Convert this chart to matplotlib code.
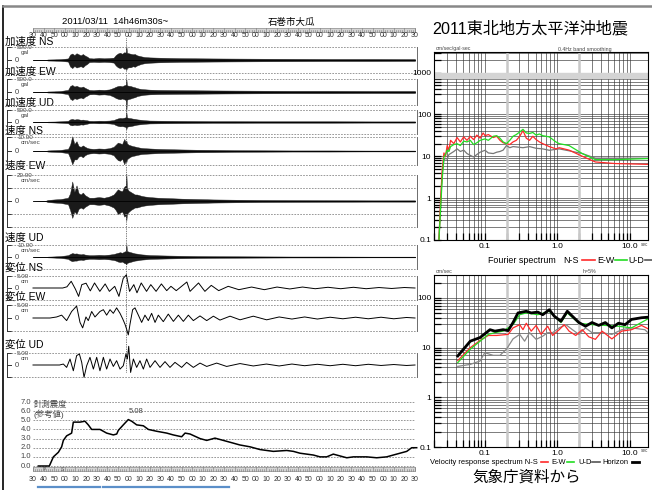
import numpy as np
import matplotlib
matplotlib.use('Agg')
import matplotlib.pyplot as plt
from matplotlib.patches import Rectangle
from matplotlib.ticker import LogLocator, NullFormatter

plt.rcParams['font.family'] = ['Liberation Sans', 'Noto Sans CJK JP', 'DejaVu Sans']

# ---------------- data ----------------
time_labels = ['30', '40', '50', '00', '10', '20'] * 6 + ['30']   # every 10 s from 14:46:30
peak_time = 88.0

# envelope time base (s after 14:46:30)
env_t = [0, 12, 14, 20, 26, 33, 35, 37, 39, 41, 43, 45, 47, 49, 51, 53, 57, 62, 67, 72,
         76, 78, 80, 82, 84, 86, 87.5, 88, 88.5, 90, 92, 94, 96, 98, 100, 102, 105, 110, 118, 128,
         140, 155, 170, 190, 215, 245, 280, 320, 360]
# acceleration (gal)
acc_ns_up = [0, 3, 20, 25, 35, 60, 210, 250, 190, 260, 220, 180, 230, 170, 130, 70, 60, 80, 65, 75,
             90, 190, 250, 280, 240, 300, 280, 540, 280, 260, 240, 220, 230, 180, 160, 140, 115, 100, 90, 80,
             70, 65, 60, 55, 50, 45, 40, 40, 35]
acc_ns_lo = [0, -3, -20, -25, -35, -60, -250, -310, -230, -290, -260, -240, -280, -200, -150, -80, -70, -80, -70, -80,
             -100, -210, -280, -310, -270, -340, -320, -380, -310, -280, -280, -240, -260, -210, -180, -150, -125, -105, -90, -80,
             -70, -65, -60, -55, -50, -45, -40, -40, -35]
acc_ew_up = [0, 3, 20, 25, 40, 80, 230, 270, 210, 240, 200, 180, 210, 160, 120, 80, 70, 90, 80, 100,
             160, 200, 230, 240, 220, 260, 280, 500, 260, 240, 230, 200, 180, 150, 130, 115, 105, 90, 80, 75,
             70, 65, 60, 55, 50, 45, 45, 40, 40]
acc_ew_lo = [0, -3, -20, -25, -40, -80, -260, -310, -240, -270, -240, -210, -250, -180, -140, -90, -80, -100, -90, -110,
             -180, -230, -260, -280, -250, -280, -310, -750, -300, -270, -250, -220, -200, -160, -140, -125, -105, -90, -80, -75,
             -70, -65, -60, -55, -50, -45, -45, -40, -40]
acc_ud_up = [0, 2, 15, 20, 30, 50, 110, 130, 100, 120, 110, 90, 100, 80, 70, 50, 45, 55, 50, 60,
             80, 120, 150, 170, 160, 180, 200, 420, 190, 170, 160, 140, 130, 110, 100, 90, 75, 60, 55, 50,
             45, 40, 35, 35, 30, 30, 30, 25, 25]
acc_ud_lo = [0, -2, -15, -20, -30, -50, -120, -140, -110, -130, -120, -100, -110, -90, -70, -50, -45, -55, -50, -60,
             -80, -130, -160, -180, -170, -190, -210, -300, -200, -180, -170, -150, -130, -110, -100, -90, -75, -60, -55, -50,
             -45, -40, -35, -35, -30, -30, -30, -25, -25]
# velocity (cm/s)
vel_ns_up = [0, 0.1, 0.4, 0.6, 0.8, 1.5, 4.5, 10.5, 5.0, 7.0, 3.5, 3.0, 4.0, 3.0, 2.2, 1.8, 1.5, 1.8, 1.6, 2.0,
             3.0, 4.5, 6.0, 5.5, 5.0, 8.6, 6.0, 7.5, 5.5, 4.5, 4.0, 3.5, 3.2, 2.8, 2.5, 2.2, 2.0, 1.8, 1.5, 1.3,
             1.1, 0.9, 0.8, 0.6, 0.5, 0.4, 0.4, 0.3, 0.3]
vel_ns_lo = [0, -0.1, -0.4, -0.6, -0.8, -1.5, -5.0, -9.5, -6.0, -6.0, -4.0, -3.5, -4.5, -3.0, -2.2, -1.8, -1.5, -1.8, -1.6, -2.0,
             -3.0, -5.0, -6.5, -7.0, -5.5, -9.5, -6.5, -8.0, -6.0, -5.0, -4.0, -3.5, -3.2, -2.8, -2.5, -2.2, -2.0, -1.8, -1.5, -1.3,
             -1.1, -0.9, -0.8, -0.6, -0.5, -0.4, -0.4, -0.3, -0.3]
vel_ew_up = [0, 0.2, 0.8, 1.2, 1.5, 2.5, 6.0, 15.0, 7.0, 12.0, 6.0, 5.0, 6.5, 4.5, 3.5, 2.5, 2.5, 3.0, 2.5, 3.5,
             5.0, 7.0, 9.0, 8.0, 7.5, 11.0, 12.0, 21.0, 10.0, 8.0, 7.0, 6.0, 5.0, 5.0, 4.5, 4.0, 3.5, 3.0, 2.5, 2.2,
             1.8, 1.5, 1.2, 1.0, 0.8, 0.7, 0.6, 0.5, 0.5]
vel_ew_lo = [0, -0.2, -0.8, -1.2, -1.5, -2.5, -7.0, -13.0, -8.0, -10.0, -6.0, -5.0, -6.0, -4.5, -3.5, -2.5, -2.5, -3.0, -2.5, -3.5,
             -5.0, -7.0, -10.0, -9.0, -8.0, -12.0, -11.0, -15.0, -10.0, -8.5, -7.0, -6.0, -5.0, -5.0, -4.5, -4.0, -3.5, -3.0, -2.5, -2.2,
             -1.8, -1.5, -1.2, -1.0, -0.8, -0.7, -0.6, -0.5, -0.5]
vel_ud_up = [0, 0.1, 0.3, 0.5, 0.8, 1.5, 2.5, 3.3, 2.8, 3.0, 2.5, 2.2, 2.5, 2.0, 1.8, 1.5, 1.5, 1.8, 1.6, 2.0,
             2.5, 3.0, 3.5, 4.0, 3.5, 4.5, 5.0, 11.0, 5.0, 4.5, 4.0, 3.5, 3.0, 2.8, 2.5, 2.2, 2.0, 1.6, 1.4, 1.2,
             1.0, 0.8, 0.7, 0.6, 0.5, 0.4, 0.4, 0.3, 0.3]
vel_ud_lo = [0, -0.1, -0.3, -0.5, -0.8, -1.5, -2.8, -3.5, -3.0, -3.0, -2.5, -2.2, -2.5, -2.0, -1.8, -1.5, -1.5, -1.8, -1.6, -2.0,
             -2.5, -3.0, -3.8, -4.2, -3.8, -5.0, -5.5, -6.0, -5.0, -4.5, -4.0, -3.5, -3.0, -2.8, -2.5, -2.2, -2.0, -1.6, -1.4, -1.2,
             -1.0, -0.8, -0.7, -0.6, -0.5, -0.4, -0.4, -0.3, -0.3]
# displacement (cm)
dis_ns_t = [0, 28, 32, 36, 40, 43, 46, 50, 54, 58, 63, 68, 72, 77, 81, 85, 88, 91, 95, 98, 102, 107, 111, 116,
            121, 126, 130, 135, 145, 148, 156, 162, 168, 175, 184, 194, 206, 218, 230, 242, 254, 266, 278, 290,
            302, 314, 326, 338, 350, 360]
dis_ns_v = [0, 0, 0.5, 2.8, -0.5, -3.5, 1.4, 2.0, -1.2, 2.1, -1.4, 1.7, -1.4, 0.7, -3.5, 4.0, 5.5, -1.4, 1.4, -2.0, 2.1, -1.4, 1.4, -1.4,
            1.7, -1.1, 0.7, -1.1, 2.5, -1.4, 2.1, -1.4, 1.1, -1.1, 0.7, -0.7, 0.4, -0.7, 0.4, -0.4, 0.4, -0.3, 0.3, -0.3,
            0.3, -0.3, 0.2, -0.2, 0.2, 0]
dis_ew_t = [0, 16, 22.3, 27, 31.7, 36.4, 41.1, 44.3, 46.8, 49.9, 52.1, 55.3, 58.4, 63.1, 66.3, 69.4, 72.6, 75.7, 78.8, 82,
            84.5, 86.7, 88.3, 89.8, 91.4, 93.9, 96.1, 99.3, 102.4, 105.5, 108.7, 111.8, 115, 118.1, 122.8, 127.5, 132.3, 137,
            141.7, 146.4, 151.1, 157.4, 163.7, 170, 176.2, 185.7, 195.1, 207.6, 220.2, 232, 244, 256, 268, 280, 292, 304,
            316, 328, 340, 352, 360]
dis_ew_v = [0, 0, 0.4, 1.1, -1.0, 2.5, 4.6, -1.7, -3.8, 0.4, -1.0, 2.5, 0.4, 2.5, 3.2, 1.1, 3.2, 1.8, 3.9, 1.8,
            -0.3, -2.4, -4.4, -6.5, -2.4, 3.2, 3.9, 1.1, -1.7, 1.1, -1.0, 1.8, -1.7, 1.1, -1.4, 1.5, -1.3, 1.1,
            -1.3, 1.1, -1.0, 0.8, -1.0, 0.7, -0.8, 0.7, -0.7, 0.7, -0.7, 0.4, -0.4, 0.4, -0.4, 0.3, -0.3, 0.3,
            -0.3, 0.3, -0.3, 0.2, 0]
dis_ud_t = [0, 25, 28.6, 31.7, 34.9, 38.0, 41.1, 43.7, 45.9, 48.1, 50.6, 53.7, 56.9, 60.0, 63.1, 66.3, 69.4, 72.6, 75.7,
            78.8, 82.0, 85.1, 87.6, 88.9, 90.2, 92.0, 94.6, 97.7, 100.8, 104, 107.1, 110.3, 115, 119.7, 124.4, 129.1, 133.8,
            140.1, 144.8, 151.1, 157.4, 163.7, 173.1, 182.5, 195.1, 207.6, 220, 232, 244, 256, 268, 280, 292, 304, 316,
            328, 340, 352, 360]
dis_ud_v = [0, 0, 0.4, -1.0, 2.5, -2.4, 3.9, 4.6, 1.1, -5.1, -0.3, 3.2, -1.7, 3.2, -2.4, 3.2, -1.7, 2.5, -0.6,
            1.8, -1.7, -0.3, 4.6, 2.5, 7.8, -3.1, 2.5, -1.0, 1.8, -1.7, 2.5, -1.0, 1.8, -1.0, 1.4, -1.0, 1.1,
            -1.0, 1.1, -1.0, 0.8, -0.6, 0.8, -0.6, 0.6, -0.4, 0.4, -0.4, 0.4, -0.3, 0.3, -0.3, 0.3, -0.3, 0.3,
            -0.2, 0.2, -0.2, 0]
# seismic intensity (reference)
int_t = [5, 15.4, 19.2, 23.9, 27, 28.6, 31.7, 34.9, 36.4, 38, 44.3, 49, 52.1, 55.3, 63.1, 66.3, 69.4, 75.7, 78.9, 80.4,
         85.1, 89.8, 93, 97.7, 104, 108.7, 116.6, 126, 132.2, 140.1, 143.3, 148, 157.4, 163.7, 171.5, 179.4, 188.8, 195,
         204.5, 213.9, 226.5, 239.1, 245.4, 251.6, 264.2, 270.5, 276.8, 283, 289.3, 295.7, 301.9, 314.5, 323.9, 333.3,
         342.7, 352.2, 356.9, 361.6]
int_v = [0, 0, 1.0, 1.5, 2.1, 2.8, 3.3, 3.5, 3.6, 4.8, 4.8, 4.9, 4.5, 4.0, 4.0, 3.8, 3.6, 3.4, 3.5, 3.9,
         4.5, 5.08, 4.9, 4.5, 4.4, 4.0, 3.8, 3.6, 3.4, 3.2, 3.6, 3.5, 3.0, 2.8, 3.05, 2.8, 2.5, 2.3,
         2.1, 1.8, 1.6, 1.7, 1.6, 1.4, 1.2, 1.0, 1.0, 1.3, 1.1, 0.9, 1.0, 1.0, 0.9, 1.0,
         1.3, 1.6, 2.0, 2.0]
int_labels = ['0.0', '1.0', '2.0', '3.0', '4.0', '5.0', '6.0', '7.0']

# Fourier spectrum (period s, cm/s)
fs_ns_p = [0.0234, 0.0247, 0.026, 0.0274, 0.0288, 0.0304, 0.0321, 0.0338, 0.0375, 0.0416, 0.0461, 0.0513, 0.0569,
           0.0632, 0.0702, 0.0778, 0.0864, 0.095, 0.101, 0.112, 0.131, 0.146, 0.162, 0.179, 0.199, 0.221, 0.245,
           0.272, 0.303, 0.336, 0.373, 0.414, 0.459, 0.51, 0.566, 0.628, 0.774, 0.955, 1.06, 1.45, 2.2, 3.34, 6.25, 17.7]
fs_ns_v = [0.1, 1.0, 5, 12, 10, 18, 14, 24, 20, 28, 22, 29, 24, 30, 25, 32, 27, 36, 31, 33, 28, 30, 24, 21, 20, 19, 22,
           24, 30, 41, 27, 24, 30, 25, 22, 20, 17, 15, 16, 14, 10, 7.3, 6.7, 6.4]
fs_ew_p = [0.0234, 0.0247, 0.026, 0.0274, 0.0288, 0.0304, 0.0321, 0.0338, 0.0375, 0.0416, 0.0461, 0.0513, 0.0569,
           0.0632, 0.0702, 0.0778, 0.0864, 0.101, 0.112, 0.131, 0.146, 0.162, 0.179, 0.199, 0.221, 0.245, 0.272,
           0.303, 0.336, 0.373, 0.414, 0.459, 0.51, 0.566, 0.628, 0.774, 0.955, 1.06, 1.45, 2.2, 3.34, 6.25, 17.7]
fs_ew_v = [0.1, 0.6, 3, 9.6, 11, 14, 13, 17, 19, 20, 18, 23, 22, 24, 19, 21, 24, 26, 24, 30, 31, 27, 22, 20, 24, 30, 33,
           38, 44, 36, 35, 37, 32, 34, 31, 29, 22, 20, 18, 11.6, 8.3, 8.3, 8.8]
fs_ud_p = [0.0234, 0.0247, 0.026, 0.0274, 0.0288, 0.0304, 0.0321, 0.0338, 0.0375, 0.0416, 0.0461, 0.0513, 0.0569,
           0.0632, 0.0702, 0.0778, 0.0864, 0.101, 0.112, 0.131, 0.146, 0.162, 0.179, 0.199, 0.221, 0.245, 0.272,
           0.336, 0.414, 0.51, 0.628, 0.774, 1.06, 1.45, 2.2, 3.34, 17.7]
fs_ud_v = [0.1, 0.8, 4, 8, 9, 8.5, 11, 11.6, 13, 15, 13, 14, 11.6, 10.5, 9.6, 11, 12.5, 13.9, 12, 11.6, 12.5, 13, 14,
           18, 16, 17, 16.7, 16, 17, 15.5, 15, 13.9, 15, 13.5, 11.6, 9, 9]

# velocity response spectrum h=5% (period s, cm/s)
vr_hz_p = [0.0425, 0.0632, 0.0864, 0.118, 0.138, 0.179, 0.21, 0.245, 0.287, 0.373, 0.436, 0.537, 0.628, 0.774, 0.906,
           1.12, 1.37, 1.69, 1.98, 2.44, 3.0, 3.71, 4.57, 5.63, 6.94, 8.55, 10.5, 14.4, 17.7]
vr_hz_v = [6.8, 13.5, 16, 23, 21.5, 23, 22, 32, 50, 54, 50, 52, 46, 58, 43, 34, 54, 40, 32, 27, 32, 28, 32, 25, 31,
           29, 37, 40, 41]
vr_ew_p = [0.0425, 0.0632, 0.0864, 0.112, 0.138, 0.179, 0.245, 0.303, 0.373, 0.537, 0.774, 1.12, 1.37, 1.98, 3.0,
           4.57, 6.94, 10.5, 17.7]
vr_ew_v = [5.0, 9.3, 13.5, 18.5, 20, 21.5, 29, 46, 50, 46, 54, 32, 50, 31, 29, 28, 27, 25, 38]
vr_ns_p = [0.0425, 0.0632, 0.0864, 0.112, 0.146, 0.21, 0.245, 0.303, 0.336, 0.373, 0.436, 0.51, 0.597, 0.735, 0.86,
           1.06, 1.24, 1.45, 1.79, 2.2, 2.71, 3.34, 4.12, 5.63, 7.7, 10.5, 14.4, 17.7]
vr_ns_v = [5.5, 10, 14, 17.6, 17.6, 18.5, 25, 29, 23, 31, 21.5, 28, 18.5, 27, 17.6, 23, 29, 21.5, 17.6, 23, 16.5,
           14.7, 21.5, 15, 21.5, 23, 28, 24]
vr_ud_p = [0.0425, 0.0632, 0.0864, 0.1, 0.131, 0.162, 0.199, 0.245, 0.303, 0.354, 0.414, 0.51, 0.628, 0.735, 0.86,
           1.06, 1.31, 1.61, 1.98, 2.44, 3.0, 4.12, 5.63, 7.7, 10.5, 16, 17.7]
vr_ud_v = [4.2, 4.6, 5.4, 7.9, 7.0, 7.0, 9.3, 15, 18.5, 13.5, 20, 14.7, 17, 20, 20, 25, 29, 23, 18.5, 25, 20, 20,
           18.5, 23, 25, 23, 20]

# ---------------- figure ----------------
W, H = 652, 490
fig = plt.figure(figsize=(W / 100, H / 100), dpi=100)
bg = fig.add_axes([0, 0, 1, 1])
bg.set_xlim(0, W)
bg.set_ylim(H, 0)
bg.axis('off')

X0 = 33.0
PXS = 382.0 / 360.0
T_LEFT = (7 - X0) / PXS
T_RIGHT = (417 - X0) / PXS


def tx(t):
    return X0 + t * PXS


def px_axes(x0, y0, x1, y1, z=2):
    ax = fig.add_axes([x0 / W, 1 - y1 / H, (x1 - x0) / W, (y1 - y0) / H])
    ax.patch.set_visible(False)
    ax.set_zorder(z)
    return ax


GREY = '#444444'

# outer frame
bg.plot([3, 3], [6, 490], color='black', lw=1.2)
bg.plot([3, 652], [6, 6], color='#888888', lw=1.8)

# header
bg.text(62, 22, '2011/03/11  14h46m30s~', fontsize=6.8, va='center', ha='left')
bg.text(268, 22, '石巻市大瓜', fontsize=6.8, va='center', ha='left')


def ruler(y0, y1, ylab):
    bg.add_patch(Rectangle((X0, y0), 382, y1 - y0, fc='#d4d4d4', ec='#888888', lw=0.5))
    for s in range(0, 361, 2):
        h = (y1 - y0) if s % 10 == 0 else (y1 - y0) * 0.5
        bg.plot([tx(s), tx(s)], [y1 - h, y1], color='#777777', lw=0.4)
    for i, lab in enumerate(time_labels):
        bg.text(tx(i * 10), ylab, lab, fontsize=5.0, ha='center', va='center', color='#333333')


ruler(28, 32, 35.5)


def trace_box(T, Z, FS, name, name_y, fs_label, unit, mids=False):
    B = 2 * Z - T
    ax = px_axes(7, T, 417, B)
    ax.set_xlim(T_LEFT, T_RIGHT)
    ax.set_ylim(-FS, FS)
    ax.axis('off')
    k = dict(color='#333333', lw=0.7, clip_on=False)
    ax.plot([T_LEFT, T_LEFT], [-FS, FS], **k)
    ticks = [-FS, 0, FS] + ([-FS / 2, FS / 2] if mids else [])
    for yv in ticks:
        ax.plot([T_LEFT, T_LEFT + 4], [yv, yv], **k)
    levels = [-FS, FS] + ([-FS / 2, FS / 2] if mids else [])
    for yv in levels:
        ax.plot([T_LEFT + 4, T_RIGHT], [yv, yv], color='#888888', lw=0.6, ls=(0, (2, 1.5)), clip_on=False)
    ax.plot([T_RIGHT, T_RIGHT], [-FS, FS], color='#555555', lw=0.6, clip_on=False)
    bg.text(5, name_y, name, fontsize=7.5, va='center', ha='left')
    bg.text(17, T + 0.6, fs_label, fontsize=4.5, color=GREY, va='center', ha='left')
    bg.text(21, T + 5.6, unit, fontsize=4.5, color=GREY, va='center', ha='left')
    bg.text(15, Z, '0', fontsize=5.5, color=GREY, va='center', ha='left')
    return ax


def env_trace(ax, up, lo):
    ax.plot([0, 360], [0, 0], color='black', lw=0.6, clip_on=False)
    ax.fill_between(env_t, lo, up, color='#1a1a1a', lw=0.3, clip_on=False)


ax = trace_box(47, 60, 500, '加速度 NS', 41.5, '500.0', 'gal')
env_trace(ax, acc_ns_up, acc_ns_lo)
ax = trace_box(79, 92, 500, '加速度 EW', 72, '500.0', 'gal')
env_trace(ax, acc_ew_up, acc_ew_lo)
ax = trace_box(110, 122, 500, '加速度 UD', 103, '500.0', 'gal')
env_trace(ax, acc_ud_up, acc_ud_lo)
ax = trace_box(137, 151, 10, '速度 NS', 131, '10.00', 'cm/sec')
env_trace(ax, vel_ns_up, vel_ns_lo)
ax = trace_box(175, 201, 20, '速度 EW', 166, '20.00', 'cm/sec', mids=True)
env_trace(ax, vel_ew_up, vel_ew_lo)
ax = trace_box(245, 257, 10, '速度 UD', 238, '10.00', 'cm/sec')
env_trace(ax, vel_ud_up, vel_ud_lo)
ax = trace_box(276, 288, 5, '変位 NS', 268, '5.00', 'cm')
ax.plot(dis_ns_t, dis_ns_v, color='black', lw=0.7, clip_on=False)
ax = trace_box(305, 318, 5, '変位 EW', 297, '5.00', 'cm')
ax.plot(dis_ew_t, dis_ew_v, color='black', lw=0.7, clip_on=False)
ax = trace_box(353, 365, 5, '変位 UD', 345, '5.00', 'cm')
ax.plot(dis_ud_t, dis_ud_v, color='black', lw=0.7, clip_on=False)

# peak time marker
bg.plot([tx(peak_time), tx(peak_time)], [38, 372], color='black', lw=0.5, ls=(0, (1, 1.5)))

# intensity panel
Y0, PU = 466.0, 9.14
ax_i = px_axes(7, 395, 417, 472)
ax_i.set_xlim(T_LEFT, T_RIGHT)
ax_i.set_ylim(-(472 - Y0) / PU, (Y0 - 395) / PU)
ax_i.axis('off')
for i, lab in enumerate(int_labels):
    ax_i.plot([0, 360], [i, i], color='#888888', lw=0.6, ls=(0, (2, 1.5)))
    bg.text(31, Y0 - i * PU, lab, fontsize=5.5, color=GREY, ha='right', va='center')
ax_i.plot(int_t, int_v, color='black', lw=1.1, clip_on=False)
ax_i.text(peak_time + 2, 5.08 + 0.5, '5.08', fontsize=5.5, color=GREY, ha='left', va='bottom')
bg.text(34, 405, '計測震度', fontsize=6, color=GREY, ha='left', va='center')
bg.text(33, 414, '(参考値)', fontsize=6, color=GREY, ha='left', va='center')
ruler(467, 471, 479)
bg.text(44, 469, 'P', fontsize=3.5, color='#555555', ha='center', va='center')
bg.text(62, 469, 'S', fontsize=3.5, color='#555555', ha='center', va='center')
for xa, xb in [(38, 100), (103, 165), (167, 229)]:
    bg.plot([xa, xb], [487, 487], color='#5b8fc9', lw=1.6)

# title
bg.text(432, 29, '2011東北地方太平洋沖地震', fontsize=11.6, ha='left', va='center')


def spec_axes(y0, y1, ymax, ylabs):
    ax = px_axes(434, y0, 648, y1)
    ax.patch.set_visible(True)
    ax.patch.set_facecolor('white')
    ax.set_xscale('log')
    ax.set_yscale('log')
    ax.set_xlim(0.02, 17.7)
    ax.set_ylim(0.1, ymax)
    ax.set_xticks([0.1, 1, 10], labels=['0.1', '1.0', '10.0'])
    ax.set_yticks([float(v) for v in ylabs], labels=ylabs)
    ax.xaxis.set_minor_locator(LogLocator(base=10, subs=np.arange(2, 10), numticks=100))
    ax.yaxis.set_minor_locator(LogLocator(base=10, subs=np.arange(2, 10), numticks=100))
    ax.xaxis.set_minor_formatter(NullFormatter())
    ax.yaxis.set_minor_formatter(NullFormatter())
    ax.set_xlim(0.02, 17.7)
    ax.set_ylim(0.1, ymax)
    ax.grid(which='both', color='#333333', lw=0.45)
    ax.tick_params(which='both', direction='in', labelsize=6, length=5, width=0.9, pad=2,
                   top=False, right=False)
    for xv in [0.2, 2.0]:
        ax.axvline(xv, color='#c8c8c8', lw=1.8, zorder=1.6)
    for sp in ax.spines.values():
        sp.set_linewidth(0.8)
    return ax


ax_f = spec_axes(52, 240, 3090, ['0.1', '1', '10', '100', '1000'])
ax_f.axhspan(750, 1000, color='#d4d4d4', zorder=1.6)
ax_f.plot(fs_ud_p, fs_ud_v, color='#777777', lw=0.9, zorder=3)
ax_f.plot(fs_ns_p, fs_ns_v, color='#ff2a2a', lw=0.9, zorder=3)
ax_f.plot(fs_ew_p, fs_ew_v, color='#22dd22', lw=0.9, zorder=3)
bg.text(436, 48.5, 'cm/sec/gal·sec', fontsize=3.8, color=GREY, ha='left', va='center')
bg.text(558, 49, '0.4Hz band smoothing', fontsize=3.8, color=GREY, ha='left', va='center')
bg.text(641, 244, 'sec', fontsize=3.3, color=GREY, ha='left', va='center')

ax_v = spec_axes(275, 447, 290, ['0.1', '1', '10', '100'])
ax_v.plot(vr_ud_p, vr_ud_v, color='#888888', lw=0.9, zorder=3)
ax_v.plot(vr_ns_p, vr_ns_v, color='#ff2a2a', lw=0.9, zorder=3)
ax_v.plot(vr_ew_p, vr_ew_v, color='#22dd22', lw=0.9, zorder=3)
ax_v.plot(vr_hz_p, vr_hz_v, color='black', lw=2.0, zorder=4)
bg.text(436, 271.5, 'cm/sec', fontsize=3.8, color=GREY, ha='left', va='center')
bg.text(583, 271.5, 'h=5%', fontsize=3.8, color=GREY, ha='left', va='center')
bg.text(641, 450, 'sec', fontsize=3.3, color=GREY, ha='left', va='center')


# legends
def leg_piece(x, y, txt, fs, color=None, lx=None, lw=1.2):
    bg.text(x, y, txt, fontsize=fs, ha='left', va='center')
    if lx is not None:
        bg.plot(lx, [y, y], color=color, lw=lw)


ly = 260
leg_piece(488, ly, 'Fourier spectrum', 6.4)
leg_piece(563, ly, 'N-S', 6.4, '#ff2a2a', [582, 595])
leg_piece(597, ly, 'E-W', 6.4, '#22dd22', [615, 627])
leg_piece(628, ly, 'U-D', 6.4, '#555555', [645, 652])

vy = 462
leg_piece(430, vy, 'Velocity response spectrum N-S', 5.4, '#ff2a2a', [541, 548])
leg_piece(551, vy, 'E-W', 5.4, '#22dd22', [567, 574])
leg_piece(578, vy, 'U-D', 5.4, '#555555', [592, 600])
leg_piece(602, vy, 'Horizon', 5.4, 'black', [632, 639], lw=2)

bg.text(527, 477, '気象庁資料から', fontsize=11.2, ha='center', va='center')

fig.savefig('out.png', dpi=100)
